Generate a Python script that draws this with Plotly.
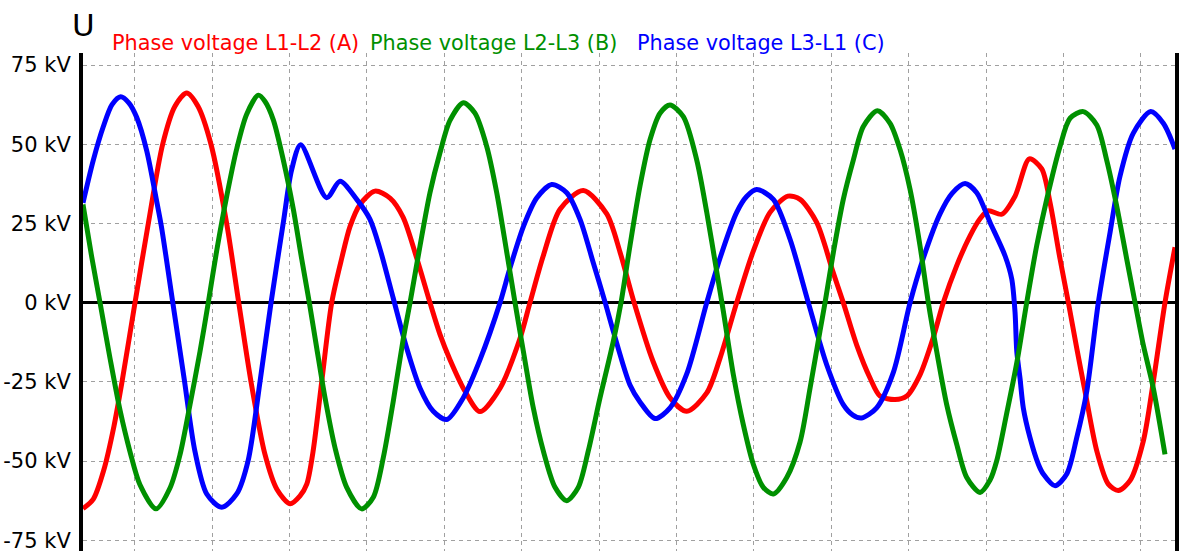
import plotly.graph_objects as go

# Time axis in milliseconds, voltages in kV
series_names = ["Phase voltage L1-L2 (A)", "Phase voltage L2-L3 (B)", "Phase voltage L3-L1 (C)"]
series_colors = ["#ff0000", "#009000", "#0000ff"]

t_a = [0.0, 1.0, 2.0, 3.0, 3.78, 5.04, 6.33, 7.72, 8.91, 10.05, 11.14, 12.40, 13.92, 15.09,
       16.28, 17.64, 18.80, 20.06, 21.03, 21.68, 22.29, 23.13, 24.10, 25.07, 25.87, 26.84,
       28.29, 29.75, 31.01, 32.34, 33.62, 34.59, 35.56, 37.02, 38.47, 40.41, 42.34, 43.31,
       44.60, 46.22, 48.48, 50.75, 52.03, 53.40, 55.23, 56.88, 58.50, 60.44, 61.72, 63.34,
       64.92, 66.57, 68.31, 69.48, 71.09, 72.67, 73.67, 74.97, 76.26, 77.23, 78.68, 79.82,
       81.10, 82.36, 83.36, 84.66, 85.95, 86.92, 87.72, 89.02, 90.31, 91.70, 92.90, 93.70,
       94.67, 95.48, 96.29, 97.09, 98.23, 99.35, 100.32, 101.45, 102.74, 103.71, 104.84, 105.81]
u_a = [-65.0, -62.0, -53.0, -39.0, -25.0, 0.0, 25.0, 50.0, 62.0, 66.2, 62.0, 50.0, 25.0, 0.0,
       -25.0, -48.0, -59.0, -63.5, -61.0, -57.3, -47.0, -25.0, 0.0, 14.0, 24.0, 31.0,
       35.2, 33.0, 27.0, 14.0, 0.0, -10.0, -18.0, -28.0, -34.4, -27.0, -11.3, 0.0,
       14.8, 29.5, 35.4, 28.0, 16.0, 0.0, -18.5, -30.0, -34.3, -28.5, -17.6, 0.0,
       16.0, 28.5, 33.6, 32.6, 25.3, 9.7, 0.0, -13.4, -23.8, -29.5, -30.6, -29.5,
       -22.8, -11.3, 0.0, 11.7, 21.1, 26.5, 29.0, 27.9, 33.6, 45.4, 42.2, 31.6,
       13.8, 0.0, -14.4, -28.0, -46.8, -57.3, -59.3, -56.2, -43.7, -24.9, 0.0, 17.5]

t_b = [0.0, 0.84, 1.65, 2.62, 3.59, 4.55, 5.52, 7.07, 8.43, 9.40, 10.37, 11.34, 12.14, 12.96,
       13.92, 14.89, 15.86, 16.99, 17.64, 18.44, 19.41, 20.38, 21.19, 21.93, 22.65, 23.45,
       24.42, 25.55, 27.00, 28.13, 29.10, 30.07, 31.04, 31.69, 32.66, 33.62, 34.59, 35.56,
       36.85, 37.98, 39.12, 40.09, 41.06, 41.86, 42.67, 43.63, 44.60, 45.74, 46.87, 47.99,
       48.96, 50.10, 51.38, 52.13, 53.00, 53.97, 54.94, 55.91, 56.88, 58.17, 59.47, 60.44,
       61.41, 62.05, 63.02, 63.98, 64.95, 65.92, 66.89, 68.19, 69.48, 70.45, 71.41, 71.90,
       72.71, 73.67, 74.64, 75.61, 76.97, 78.20, 79.17, 80.14, 81.10, 81.91, 82.72, 83.69,
       84.66, 85.63, 86.92, 87.89, 88.53, 89.50, 90.48, 91.44, 92.41, 93.38, 94.67, 95.64,
       96.93, 98.23, 99.19, 100.16, 101.13, 101.94, 102.74, 103.71, 104.84]
u_b = [31.0, 14.5, 0.0, -17.6, -34.0, -47.0, -57.5, -65.1, -58.5, -48.0, -32.2, -15.4, 0.0, 16.5,
       33.5, 48.5, 59.5, 65.5, 63.5, 57.7, 45.0, 29.5, 13.8, 0.0, -14.4, -30.0,
       -45.8, -58.3, -65.1, -61.4, -48.9, -31.0, -11.3, 0.0, 18.0, 34.7, 47.3, 57.5,
       63.1, 59.8, 49.3, 34.7, 15.9, 0.0, -15.4, -33.2, -46.8, -58.3, -62.5, -58.3,
       -46.8, -30.0, -12.3, 0.0, 18.0, 36.8, 51.4, 59.8, 62.4, 58.7, 45.0, 28.5,
       9.7, -2.8, -22.8, -38.5, -51.0, -58.3, -60.4, -55.2, -44.0, -27.0, -9.0, 0.0,
       15.9, 32.6, 45.0, 55.6, 60.6, 56.6, 48.3, 35.7, 18.0, 0.0, -15.4, -32.2,
       -44.7, -55.2, -59.9, -56.0, -50.0, -35.0, -19.0, 0.0, 18.0, 32.6, 49.3, 58.2,
       60.3, 56.1, 45.0, 30.5, 13.8, 0.0, -13.4, -27.0, -47.9]

t_c = [0.0, 1.0, 1.97, 2.81, 3.65, 4.46, 5.20, 6.17, 7.14, 7.60, 8.70, 9.80, 10.85, 11.99,
       13.44, 14.89, 15.99, 17.15, 18.22, 19.41, 20.22, 21.09, 23.61, 24.90, 26.52, 27.81,
       28.78, 30.07, 31.37, 32.66, 33.94, 35.24, 36.85, 38.47, 40.41, 41.38, 42.67,
       43.96, 45.42, 46.87, 48.16, 49.45, 50.60, 51.38, 53.00, 54.00, 55.43, 56.88, 58.50,
       60.44, 61.72, 63.34, 64.30, 65.28, 66.89, 68.51, 70.28, 72.06, 73.67, 74.60, 75.45,
       76.90, 78.52, 80.14, 81.42, 83.04, 84.21, 85.47, 86.60, 87.89, 89.34, 89.99, 90.31,
       90.48, 90.79, 91.11, 91.76, 92.57, 93.05, 94.19, 95.32, 96.29, 97.26, 98.38, 99.52,
       100.48, 101.77, 103.46, 104.68, 105.81]
u_c = [31.5, 45.0, 55.6, 62.5, 65.0, 63.0, 58.5, 48.0, 32.0, 24.0, 0.0, -24.0, -47.0, -60.4,
       -64.6, -60.4, -50.0, -25.0, 0.0, 25.3, 42.0, 49.8, 33.1, 38.3, 32.6, 26.3,
       16.9, 1.3, -14.4, -27.0, -34.3, -36.9, -30.0, -18.0, 0.0, 11.0, 24.0,
       33.0, 37.3, 34.7, 26.3, 12.5, 0.0, -9.0, -26.0, -31.5, -36.6, -33.2, -22.5,
       0.0, 14.0, 28.5, 33.5, 35.7, 32.6, 20.0, 0.0, -19.6, -32.2, -35.5, -36.4,
       -33.2, -22.0, 0.0, 14.0, 28.0, 34.5, 37.6, 34.7, 25.3, 14.8, 7.5, -3.0,
       -15.4, -23.8, -33.2, -42.6, -51.0, -54.1, -57.8, -54.1, -42.6, -28.0, 0.0, 22.2,
       39.9, 53.5, 60.3, 56.6, 48.5]

y_ticks = [-75, -50, -25, 0, 25, 50, 75]
y_tick_text = [f"{v} kV" for v in y_ticks]

fig = go.Figure()
# drawing order: A, C, B
for t, u, name, color in [(t_a, u_a, series_names[0], series_colors[0]),
                          (t_c, u_c, series_names[2], series_colors[2]),
                          (t_b, u_b, series_names[1], series_colors[1])]:
    fig.add_trace(go.Scatter(x=t, y=u, name=name, mode="lines",
                             line=dict(color=color, width=5, shape="spline", smoothing=0.8),
                             showlegend=False, hoverinfo="skip"))

font_family = "DejaVu Sans"

fig.update_layout(
    width=1182, height=553,
    margin=dict(l=83, r=7, t=53, b=0),
    paper_bgcolor="white", plot_bgcolor="white",
    font=dict(family=font_family, size=21, color="black"),
    xaxis=dict(range=[0, 105.81], showticklabels=False, ticks="",
               showgrid=True, tick0=5, dtick=7.5, gridcolor="#a0a0a0", gridwidth=1,
               griddash="4px,4px", zeroline=False, showline=False),
    yaxis=dict(range=[-78.4, 78.8], tickmode="array", tickvals=y_ticks, ticktext=y_tick_text,
               ticks="", ticklabelstandoff=4, ticklabeloverflow="allow",
               showgrid=True, gridcolor="#a0a0a0", gridwidth=1, griddash="4px,4px",
               zeroline=True, zerolinecolor="black", zerolinewidth=2.5,
               showline=True, mirror=True, linecolor="black", linewidth=4),
)

# axis symbol
fig.add_annotation(text="U", xref="paper", yref="paper", x=0.0, y=1.056,
                   xanchor="center", yanchor="middle", showarrow=False,
                   font=dict(family=font_family, size=31, color="black"))

# series labels in a row above the plot
label_x = [110, 368, 635]
for name, color, px in zip(series_names, series_colors, label_x):
    fig.add_annotation(text=name, xref="paper", yref="paper", x=(px - 83) / 1092, y=1.02,
                       xanchor="left", yanchor="middle", showarrow=False,
                       font=dict(family=font_family, size=20.8, color=color))

fig.write_html("out.html")
